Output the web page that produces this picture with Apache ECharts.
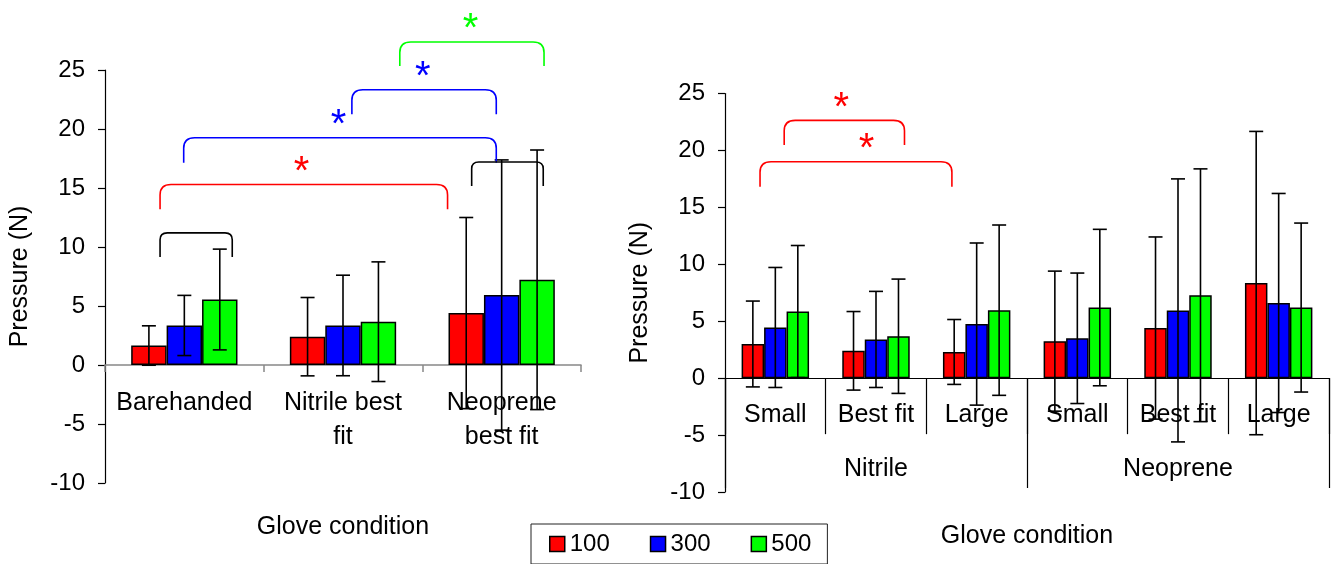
<!DOCTYPE html>
<html>
<head>
<meta charset="utf-8">
<title>Pressure by glove condition</title>
<script src="https://cdn.jsdelivr.net/npm/echarts@6/dist/echarts.min.js"></script>
<style>
  html, body { margin: 0; padding: 0; background: #fff; }
  #chart { width: 1335px; height: 564px; }
</style>
</head>
<body>
<div id="chart"></div>
<script>
// ---- data ----
const pressureLevels = ['100', '300', '500'];
const yTickValues = [-10, -5, 0, 5, 10, 15, 20, 25];

// Left panel: hand condition
const leftCategories = ['Barehanded', 'Nitrile best\nfit', 'Neoprene\nbest fit'];
const leftMean100 = [1.65, 2.4, 4.4];
const leftSd100 = [1.67, 3.32, 8.1];
const leftMean300 = [3.35, 3.35, 5.93];
const leftSd300 = [2.55, 4.26, 11.45];
const leftMean500 = [5.55, 3.67, 7.22];
const leftSd500 = [4.27, 5.07, 11.0];

// Right panel: glove size within material
const rightSizes = ['Small', 'Best fit', 'Large', 'Small', 'Best fit', 'Large'];
const rightMaterials = ['Nitrile', 'Neoprene'];
const rightMean100 = [3.0, 2.4, 2.3, 3.25, 4.4, 8.35];
const rightSd100 = [3.77, 3.45, 2.85, 6.15, 8.0, 13.32];
const rightMean300 = [4.45, 3.4, 4.75, 3.5, 5.95, 6.6];
const rightSd300 = [5.27, 4.22, 7.12, 5.73, 11.55, 9.62];
const rightMean500 = [5.85, 3.68, 5.97, 6.2, 7.28, 6.2];
const rightSd500 = [5.8, 5.02, 7.48, 6.87, 11.1, 7.42];

// Significance brackets: [from, to, top, leg end, star x, star y, level]
// x positions are in category units (0 = centre of first category)
const leftBrackets = [
  [-0.153, 0.302, 11.2, 9.15, null, null, 'pair'],
  [-0.153, 1.659, 15.3, 13.2, 0.738, 17.0, '100'],
  [-0.004, 1.966, 19.26, 17.15, 0.972, 21.04, '300'],
  [1.056, 1.966, 23.33, 21.24, 1.503, 25.08, '300'],
  [1.358, 2.267, 27.37, 25.33, 1.804, 29.14, '500'],
  [1.811, 2.262, 17.2, 15.17, null, null, 'pair']
];
const rightBrackets = [
  [0.088, 1.283, 22.64, 20.47, 0.654, 24.42, '100'],
  [-0.152, 1.754, 19.0, 16.8, 0.907, 20.82, '100']
];

// ---- styling ----
const FONT = "'Liberation Sans', Arial, sans-serif";
const levelColors = { '100': '#ff0000', '300': '#0000ff', '500': '#00ff00', 'pair': '#000000' };
const BAR_CATEGORY_GAP = 0.33;

function errorRows(mean, sd) {
  return mean.map((m, i) => [i, m - sd[i], m + sd[i]]);
}

function errorBarRenderer(slot) {
  return function (params, api) {
    const xi = api.value(0);
    const lo = api.coord([xi, api.value(1)]);
    const hi = api.coord([xi, api.value(2)]);
    const band = api.size([1, 0])[0];
    const barW = band * (1 - BAR_CATEGORY_GAP) / 3;
    const x = lo[0] + (slot - 1) * barW;
    const cap = 7;
    const style = { stroke: '#000', lineWidth: 1.6 };
    return {
      type: 'group',
      children: [
        { type: 'line', shape: { x1: x, y1: hi[1], x2: x, y2: lo[1] }, style: style },
        { type: 'line', shape: { x1: x - cap, y1: hi[1], x2: x + cap, y2: hi[1] }, style: style },
        { type: 'line', shape: { x1: x - cap, y1: lo[1], x2: x + cap, y2: lo[1] }, style: style }
      ]
    };
  };
}

function bracketRenderer(params, api) {
  const a = api.coord([api.value(0), api.value(2)]);
  const b = api.coord([api.value(1), api.value(2)]);
  const e = api.coord([api.value(0), api.value(3)]);
  const level = api.value(6);
  const color = levelColors[level] || '#000';
  const xa = a[0], xb = b[0], yT = a[1], yE = e[1];
  const rx = Math.min(11, (xb - xa) * 0.1);
  const ry = Math.min(rx * 0.95, (yE - yT) * 0.6);
  const d = 'M' + xa + ' ' + yE + ' L' + xa + ' ' + (yT + ry) +
    ' Q' + xa + ' ' + yT + ' ' + (xa + rx) + ' ' + yT +
    ' L' + (xb - rx) + ' ' + yT +
    ' Q' + xb + ' ' + yT + ' ' + xb + ' ' + (yT + ry) +
    ' L' + xb + ' ' + yE;
  const children = [{
    type: 'path',
    shape: { pathData: d },
    style: { stroke: color, fill: null, lineWidth: 1.6 }
  }];
  const sx = api.value(4), sy = api.value(5);
  if (sx != null && !isNaN(sx)) {
    const s = api.coord([sx, sy]);
    const size = 40;
    children.push({
      type: 'text',
      x: s[0],
      y: s[1] + size * 0.22,
      style: {
        text: '*', fill: color, font: size + 'px ' + FONT,
        align: 'center', verticalAlign: 'middle'
      }
    });
  }
  return { type: 'group', children: children };
}

function bracketRows(list) {
  return list.map(r => r.slice());
}

const yAxisBase = {
  type: 'value',
  min: yTickValues[0],
  max: yTickValues[yTickValues.length - 1],
  interval: yTickValues[1] - yTickValues[0],
  name: 'Pressure (N)',
  nameLocation: 'middle',
  nameGap: 72,
  nameMoveOverlap: false,
  nameTextStyle: { fontSize: 25, color: '#000', fontFamily: FONT },
  axisLine: { show: true, onZero: false, lineStyle: { color: '#000', width: 1.2 } },
  axisTick: { show: true, length: 7, lineStyle: { color: '#000', width: 1.2 } },
  axisLabel: { fontSize: 24, color: '#000', margin: 20, fontFamily: FONT },
  splitLine: { show: false }
};

function barSeries(name, data, xIdx, yIdx) {
  return {
    type: 'bar', name: name, data: data,
    xAxisIndex: xIdx, yAxisIndex: yIdx,
    barGap: '0%', barCategoryGap: (BAR_CATEGORY_GAP * 100) + '%',
    itemStyle: { color: levelColors[name], borderColor: '#000', borderWidth: 1.5 },
    emphasis: { disabled: true },
    silent: true, z: 2
  };
}

function errorSeries(name, rows, slot, xIdx, yIdx) {
  return {
    type: 'custom', name: name + ' sd', data: rows,
    xAxisIndex: xIdx, yAxisIndex: yIdx,
    encode: { x: 0, y: [1, 2] },
    renderItem: errorBarRenderer(slot),
    silent: true, z: 4, clip: false
  };
}

function bracketSeries(rows, xIdx, yIdx) {
  return {
    type: 'custom', name: 'brackets', data: rows,
    xAxisIndex: xIdx, yAxisIndex: yIdx,
    encode: { x: [0, 1], y: [2, 3] },
    renderItem: bracketRenderer,
    silent: true, z: 5, clip: false
  };
}

const chart = echarts.init(document.getElementById('chart'), null, { renderer: 'canvas' });

// Category labels and axis names are laid out from the bottom edge of each grid,
// so their offsets are negative to lift them up under the zero line.
// The material axis sits near the grid bottom with its long ticks pointing up
// to the zero line, separating the two material groups.
chart.setOption({
  animation: false,
  backgroundColor: '#fff',
  textStyle: { fontFamily: FONT },
  legend: {
    data: pressureLevels,
    left: 531, top: 524,
    padding: [8, 16, 8, 18],
    itemGap: 40,
    itemWidth: 15, itemHeight: 15,
    icon: 'rect',
    borderColor: '#222', borderWidth: 1,
    itemStyle: { borderColor: '#000', borderWidth: 1.5 },
    textStyle: { fontSize: 24, color: '#000', fontFamily: FONT },
    selectedMode: false
  },
  grid: [
    { left: 105, top: 70, width: 476, height: 413, containLabel: false, outerBoundsMode: 'none' },
    { left: 725, top: 93.5, width: 604, height: 398.5, containLabel: false, outerBoundsMode: 'none' }
  ],
  xAxis: [
    {
      gridIndex: 0, type: 'category', data: leftCategories, position: 'bottom',
      name: 'Glove condition', nameLocation: 'middle', nameGap: 32, nameMoveOverlap: false,
      nameTextStyle: { fontSize: 25, color: '#000', fontFamily: FONT },
      axisLine: { show: true, onZero: true, lineStyle: { color: '#888', width: 1.5 } },
      axisTick: { show: true, interval: 0, length: 7, lineStyle: { color: '#888', width: 1.5 } },
      axisLabel: { interval: 0, fontSize: 25, lineHeight: 34, margin: -97, color: '#000', fontFamily: FONT },
      splitLine: { show: false }
    },
    { gridIndex: 0, type: 'value', min: -0.5, max: leftCategories.length - 0.5, show: false },
    {
      gridIndex: 1, type: 'category', data: rightSizes, position: 'bottom',
      axisLine: { show: true, onZero: true, lineStyle: { color: '#000', width: 1.2 } },
      axisTick: { show: true, interval: 0, length: 56, lineStyle: { color: '#000', width: 1.2 } },
      axisLabel: { interval: 0, fontSize: 25, lineHeight: 30, margin: -92, color: '#000', fontFamily: FONT },
      splitLine: { show: false }
    },
    {
      gridIndex: 1, type: 'category', data: rightMaterials, position: 'bottom', offset: -4,
      name: 'Glove condition', nameLocation: 'middle', nameGap: 36, nameMoveOverlap: false,
      nameTextStyle: { fontSize: 25, color: '#000', fontFamily: FONT },
      axisLine: { show: false, onZero: false },
      axisTick: { show: true, inside: true, interval: 0, length: 110, lineStyle: { color: '#000', width: 1.2 } },
      axisLabel: { interval: 0, fontSize: 25, lineHeight: 30, margin: -34, color: '#000', fontFamily: FONT },
      splitLine: { show: false }
    },
    { gridIndex: 1, type: 'value', min: -0.5, max: rightSizes.length - 0.5, show: false }
  ],
  yAxis: [
    Object.assign({ gridIndex: 0 }, yAxisBase),
    Object.assign({ gridIndex: 1 }, yAxisBase)
  ],
  series: [
    barSeries('100', leftMean100, 0, 0),
    barSeries('300', leftMean300, 0, 0),
    barSeries('500', leftMean500, 0, 0),
    errorSeries('100', errorRows(leftMean100, leftSd100), 0, 0, 0),
    errorSeries('300', errorRows(leftMean300, leftSd300), 1, 0, 0),
    errorSeries('500', errorRows(leftMean500, leftSd500), 2, 0, 0),
    bracketSeries(bracketRows(leftBrackets), 1, 0),

    barSeries('100', rightMean100, 2, 1),
    barSeries('300', rightMean300, 2, 1),
    barSeries('500', rightMean500, 2, 1),
    errorSeries('100', errorRows(rightMean100, rightSd100), 0, 2, 1),
    errorSeries('300', errorRows(rightMean300, rightSd300), 1, 2, 1),
    errorSeries('500', errorRows(rightMean500, rightSd500), 2, 2, 1),
    bracketSeries(bracketRows(rightBrackets), 4, 1)
  ]
});
</script>
</body>
</html>
